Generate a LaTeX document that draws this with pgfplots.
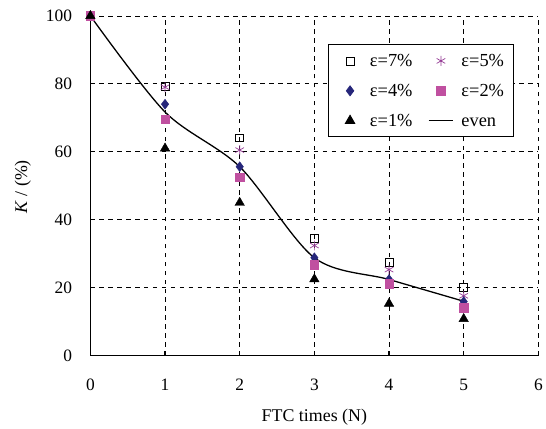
\documentclass[border=0pt]{standalone}
\usepackage{pgfplots}
\pgfplotsset{compat=1.18}
\usepackage{fontspec}
\setmainfont{Liberation Serif}
\definecolor{navyd}{RGB}{38,38,122}
\definecolor{pinkm}{RGB}{192,80,160}
\definecolor{purps}{RGB}{150,60,150}
\pgfplotsset{
  markleg/.style={legend image code/.code={\path[draw=none,fill=none] (0pt,0pt) -- (25pt,0pt);\draw[##1,draw=none] plot[only marks] coordinates {(12.5pt,0pt)};}},
  evenleg/.style={legend image code/.code={\draw[##1] (0pt,0pt) -- (25pt,0pt);}},
}
\begin{document}
\begin{tikzpicture}[font=\fontsize{18}{21}\selectfont]
\begin{axis}[
  name=ax,
  scale only axis,
  width=451pt, height=342pt,
  xmin=0, xmax=6, ymin=0, ymax=100,
  xtick={0,1,2,3,4,5,6},
  ytick={0,20,40,60,80,100},
  /pgf/number format/assume math mode=true,
  tick label style={font=\fontsize{17.5}{21}\selectfont},
  label style={font=\fontsize{18.5}{22}\selectfont},
  axis x line*=bottom, axis y line*=left,
  axis line style={-, line width=1.5pt},
  tick style={line width=1.2pt, black},
  major tick length=5pt,
  tick align=inside,
  grid=major,
  major grid style={black, line width=0.7pt, dash pattern=on 4.5pt off 4.5pt},
  xticklabel shift=20pt,
  yticklabel shift=15pt,
  xlabel={FTC times (N)},
  ylabel={\textit{K} / (\%)},
  every axis x label/.style={at={(axis description cs:0.5,0)}, anchor=center, yshift=-62pt},
  every axis y label/.style={at={(axis description cs:-0.151,0.497)}, rotate=90, anchor=center},
  clip=false,
  legend columns=2,
  legend cell align=left,
  markleg,
  legend style={at={(0.53,0.916)}, anchor=north west, draw=black, line width=0.8pt,
    fill=white, inner xsep=9.5pt, inner ysep=7.7pt, row sep=13.1pt,
    font=\fontsize{18.5}{22}\selectfont,
    nodes={inner sep=0pt, text height=14.5pt, text depth=2.5pt},
    /tikz/every odd column/.append style={column sep=7.5pt},
    /tikz/every even column/.append style={column sep=15.5pt}},
]
\addplot[only marks, mark=square, mark size=4pt, mark options={draw=black, fill=white, line width=0.7pt}]
  coordinates {(0,100) (1,79.3) (2,64.1) (3,34.6) (4,27.5) (5,20)};
\addlegendentry{ε=7\%}
\addplot[only marks, mark=asterisk, mark size=5pt, mark options={draw=purps, line width=0.7pt}]
  coordinates {(0,100) (1,79) (2,60.5) (3,32.4) (4,25.3) (5,17.6)};
\addlegendentry{ε=5\%}
\addplot[only marks, mark=diamond*, mark size=5pt, mark options={draw=navyd, fill=navyd}]
  coordinates {(0,100) (1,74) (2,55.6) (3,28.8) (4,22.4) (5,15.9)};
\addlegendentry{ε=4\%}
\addplot[only marks, mark=square*, mark size=4.3pt, mark options={draw=pinkm, fill=pinkm}]
  coordinates {(0,100) (1,69.6) (2,52.5) (3,26.8) (4,21.2) (5,14.1)};
\addlegendentry{ε=2\%}
\addplot[only marks, mark=triangle*, mark size=5.5pt, mark options={draw=black, fill=black}]
  coordinates {(0,100) (1,61) (2,45) (3,22.5) (4,15.3) (5,10.8)};
\addlegendentry{ε=1\%}
\addplot[black, line width=1.3pt, smooth, mark=none, evenleg]
  coordinates {(0,100) (1,71.7) (2,55.6) (3,28.8) (4,22.4) (5,16)};
\addlegendentry{even}
\end{axis}
\path (ax.south west) ++(-91pt,-68pt) coordinate (bbA);
\path (ax.north east) ++(4pt,16pt) coordinate (bbB);
\path[use as bounding box] (bbA) rectangle (bbB);
\end{tikzpicture}
\end{document}
